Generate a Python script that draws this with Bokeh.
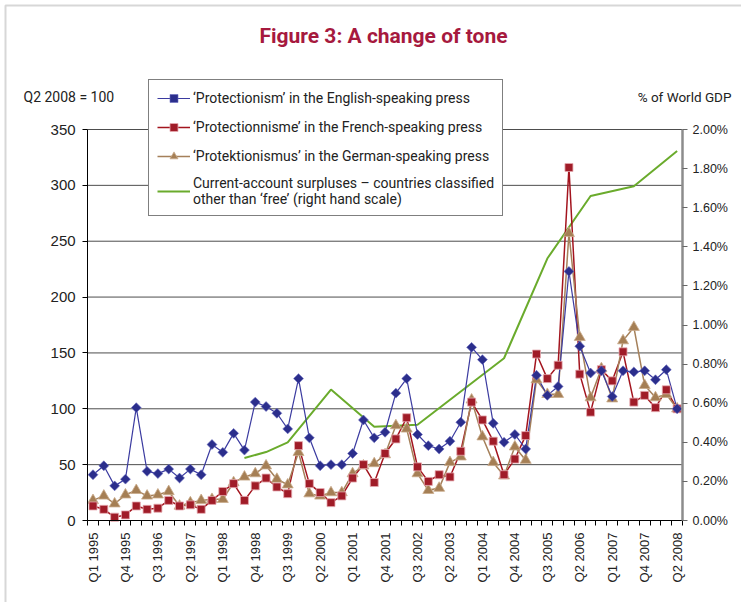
import math
from bokeh.plotting import figure
from bokeh.models import (Range1d, LinearAxis, FixedTicker, PrintfTickFormatter,
                          Legend, LegendItem, Label, BoxAnnotation)
from bokeh.embed import file_html
from bokeh.resources import INLINE

# ---------------- data ----------------
quarter_index = list(range(55))
tick_positions = list(range(0, 52, 3)) + [54]
tick_labels = ["Q1 1995", "Q4 1995", "Q3 1996", "Q2 1997", "Q1 1998", "Q4 1998",
               "Q3 1999", "Q2 2000", "Q1 2001", "Q4 2001", "Q3 2002", "Q2 2003",
               "Q1 2004", "Q4 2004", "Q3 2005", "Q2 2006", "Q1 2007", "Q4 2007",
               "Q2 2008"]

english = [41, 49, 31, 37, 101, 44, 42, 46, 38, 46,
           41, 68, 61, 78, 63, 106, 102, 96, 82, 127,
           74, 49, 50, 50, 60, 90, 74, 79, 114, 127,
           77, 67, 64, 71, 88, 155, 144, 87, 70, 77,
           64, 130, 112, 120, 223, 156, 132, 134, 111, 134,
           133, 134, 126, 135, 100]
french = [13, 10, 3, 5, 13, 10, 11, 18, 13, 14,
          10, 18, 26, 33, 18, 31, 38, 30, 24, 67,
          33, 25, 16, 22, 38, 50, 34, 60, 73, 92,
          48, 35, 41, 39, 62, 106, 90, 71, 41, 55,
          76, 149, 127, 139, 316, 131, 97, 135, 125, 151,
          106, 112, 101, 117, 100]
german = [18, 22, 15, 23, 27, 22, 23, 26, 13, 16,
          18, 19, 19, 34, 39, 42, 49, 37, 32, 61,
          24, 22, 25, 25, 42, 49, 51, 59, 85, 82,
          42, 27, 29, 52, 57, 108, 75, 52, 40, 66,
          54, 126, 113, 113, 257, 164, 110, 136, 109, 161,
          173, 121, 110, 113, 100]
green_idx = [14, 16, 18, 22, 26, 30, 38, 42, 46, 50, 54]
green_pct = [0.32, 0.35, 0.40, 0.67, 0.48, 0.49, 0.83, 1.34, 1.66, 1.71, 1.89]

left_ticks = [0, 50, 100, 150, 200, 250, 300, 350]
right_ticks = [0.0, 0.2, 0.4, 0.6, 0.8, 1.0, 1.2, 1.4, 1.6, 1.8, 2.0]

labels = ["\u2018Protectionism\u2019 in the English-speaking press",
          "\u2018Protectionnisme\u2019 in the French-speaking press",
          "\u2018Protektionismus\u2019 in the German-speaking press",
          "Current-account surpluses \u2013 countries classified\nother than \u2018free\u2019 (right hand scale)"]

BLUE_L, BLUE_M = "#3b3ba0", "#2b2e8c"
RED_L, RED_M = "#a3141e", "#a01c28"
TAN_L, TAN_M = "#a5805a", "#a57f55"
GREEN = "#6aab2c"
TXT = "#222222"
LFONT = "Roboto"
AFONT = "Liberation Sans"

W, H = 741, 602
# pixel geometry of the plotting area inside the canvas
X0_PX, DX_PX = 92.5, 10.817          # centre of first quarter, quarter spacing
Y0_PX, DY_PX = 520.0, 391.0 / 350.0  # pixel of value 0, pixels per unit
x_lo = -X0_PX / DX_PX
x_hi = (W - X0_PX) / DX_PX
y_hi = Y0_PX / DY_PX
y_lo = (Y0_PX - H) / DY_PX
left_max = left_ticks[-1]
right_max = right_ticks[-1]
k = right_max / left_max

# ---------------- figure ----------------
p = figure(width=W, height=H, output_backend="svg", toolbar_location=None,
           x_range=Range1d(x_lo, x_hi), y_range=Range1d(y_lo, y_hi),
           min_border=0, min_border_left=0, min_border_right=0,
           min_border_top=0, min_border_bottom=0)
p.outline_line_color = None
p.background_fill_color = "white"
p.border_fill_color = "white"
p.extra_y_ranges = {"pct": Range1d(y_lo * k, y_hi * k)}
p.xgrid.visible = False
p.ygrid.visible = False

first_edge = quarter_index[0] - 0.5
last_edge = quarter_index[-1] + 0.5

# horizontal grid lines (left scale)
gl = left_ticks[1:]
p.segment(x0=[first_edge] * len(gl), x1=[last_edge] * len(gl), y0=gl, y1=gl,
          line_color="#4d4d4d", line_width=1)

# x axis
xa = p.xaxis[0]
xa.fixed_location = 0
xa.bounds = (first_edge, last_edge)
xa.ticker = FixedTicker(ticks=tick_positions,
                        minor_ticks=[i - 0.5 for i in range(56)])
xa.major_label_overrides = {pos: lab for pos, lab in zip(tick_positions, tick_labels)}
xa.major_label_orientation = math.pi / 2
xa.major_tick_line_color = None
xa.major_tick_out = 0
xa.major_tick_in = 0
xa.minor_tick_out = 5
xa.minor_tick_in = 0
xa.minor_tick_line_color = "black"
xa.axis_line_color = "black"
xa.major_label_standoff = 7
xa.major_label_text_font = AFONT
xa.major_label_text_font_size = "13px"
xa.major_label_text_color = TXT

# left axis
ya = p.yaxis[0]
ya.fixed_location = first_edge
ya.bounds = (0, left_max)
ya.ticker = FixedTicker(ticks=left_ticks)
ya.minor_tick_line_color = None
ya.major_tick_out = 5
ya.major_tick_in = 0
ya.major_tick_line_color = "black"
ya.axis_line_color = "black"
ya.major_label_standoff = 7
ya.major_label_text_font = AFONT
ya.major_label_text_font_size = "15px"
ya.major_label_text_color = TXT

# right axis
ra = LinearAxis(y_range_name="pct", ticker=FixedTicker(ticks=right_ticks),
                formatter=PrintfTickFormatter(format="%.2f%%"))
ra.fixed_location = last_edge
ra.bounds = (0, right_max)
ra.minor_tick_line_color = None
ra.major_tick_out = 5
ra.major_tick_in = 0
ra.major_tick_line_color = "#666666"
ra.axis_line_color = "#8c8c8c"
ra.axis_line_width = 2.5
ra.major_label_standoff = 5
ra.major_label_text_font = AFONT
ra.major_label_text_font_size = "12.5px"
ra.major_label_text_color = TXT
p.add_layout(ra, "right")

# ---------------- series ----------------
l4 = p.line(green_idx, green_pct, y_range_name="pct", line_color=GREEN, line_width=2)

l2 = p.line(quarter_index, french, line_color=RED_L, line_width=1.5)
l3 = p.line(quarter_index, german, line_color=TAN_L, line_width=1.5)
l1 = p.line(quarter_index, english, line_color=BLUE_L, line_width=1.2)

s3 = p.scatter(quarter_index, german, marker="triangle", size=11,
               fill_color=TAN_M, line_color="#c9ab8c", line_width=0.8)
s2 = p.scatter(quarter_index, french, marker="square", size=8,
               fill_color=RED_M, line_color="#e6aab0", line_width=0.8)
s1 = p.scatter(quarter_index, english, marker="square", size=7, angle=math.pi / 4,
               fill_color=BLUE_M, line_color="#6a6cc0", line_width=0.6)

legend = Legend(items=[LegendItem(label=labels[0], renderers=[l1, s1]),
                       LegendItem(label=labels[1], renderers=[l2, s2]),
                       LegendItem(label=labels[2], renderers=[l3, s3]),
                       LegendItem(label=labels[3], renderers=[l4])],
                location=(148, H - 216))
legend.border_line_color = "black"
legend.border_line_width = 1
legend.background_fill_color = "white"
legend.background_fill_alpha = 1
legend.label_text_font = LFONT
legend.label_text_font_size = "14px"
legend.label_text_color = TXT
legend.label_text_line_height = 1.45
legend.glyph_width = 33
legend.glyph_height = 20
legend.label_height = 20
legend.label_standoff = 3
legend.spacing = 9
legend.padding = 8
legend.margin = 0
p.add_layout(legend)

# ---------------- texts ----------------
p.add_layout(Label(x=383, y=H - 35, x_units="screen", y_units="screen",
                   text="Figure 3: A change of tone", text_align="center",
                   text_baseline="middle", text_font=LFONT, text_font_size="21px",
                   text_font_style="bold", text_color="#a6193e"))
p.add_layout(Label(x=23, y=H - 96, x_units="screen", y_units="screen",
                   text="Q2 2008 = 100", text_align="left", text_baseline="middle",
                   text_font=LFONT, text_font_size="14px", text_color=TXT))
p.add_layout(Label(x=731, y=H - 96, x_units="screen", y_units="screen",
                   text="% of World GDP", text_align="right", text_baseline="middle",
                   text_font=LFONT, text_font_size="13.5px", text_color=TXT))

# outer frame (top and left edge)
p.add_layout(BoxAnnotation(left=5, right=W + 50, bottom=-50, top=H - 5,
                           left_units="screen", right_units="screen",
                           top_units="screen", bottom_units="screen",
                           fill_alpha=0, line_color="#7a7a7a", line_width=2))

open("out.html", "w").write(file_html(p, INLINE))
